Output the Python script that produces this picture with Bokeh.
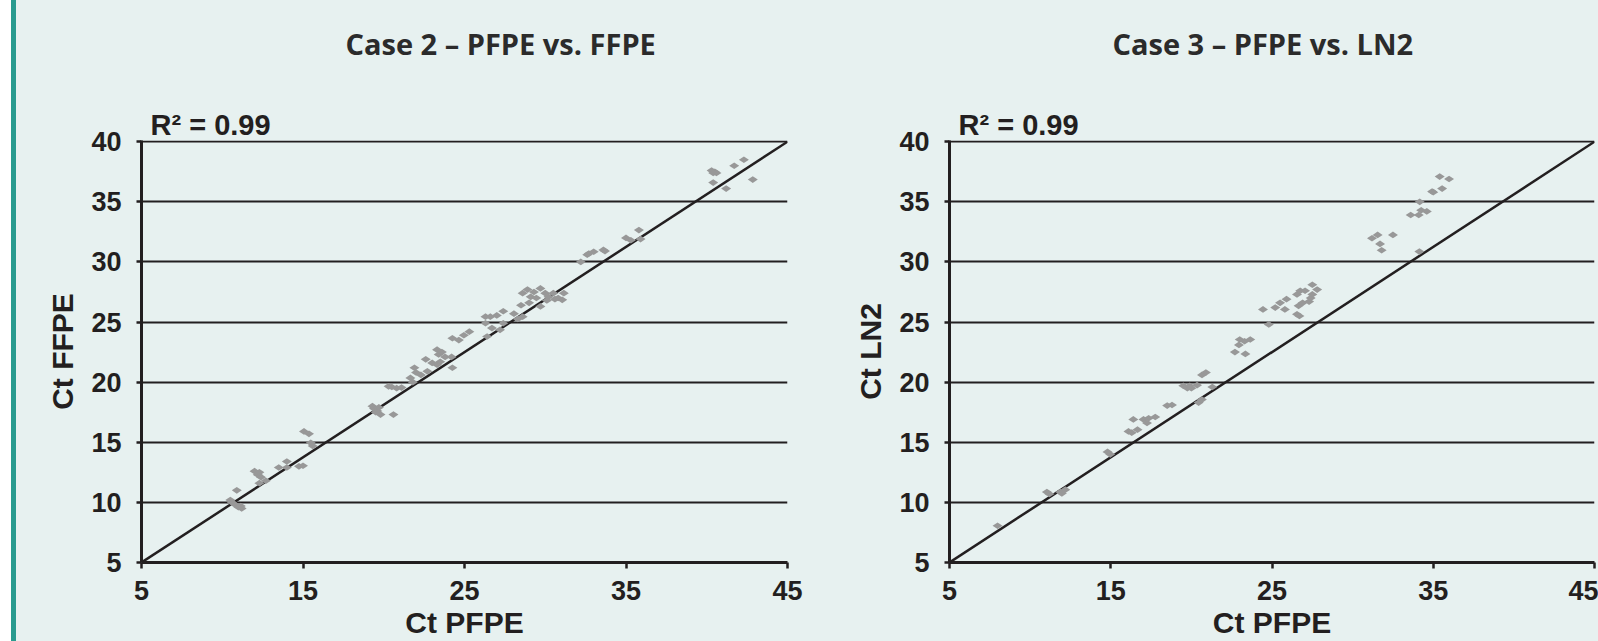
import math
from bokeh.plotting import figure
from bokeh.models import FixedTicker, Range1d, Div, Title, Label
from bokeh.layouts import row, column
from bokeh.embed import file_html
from bokeh.resources import INLINE

# ---------------- data ----------------
case2_pfpe = [10.5, 10.8, 11.0, 11.2, 10.9, 11.15, 10.6,
              12.0, 12.2, 12.4, 12.3, 12.3, 12.7,
              13.5, 14.0, 14.0, 14.75, 15.0,
              15.06, 15.37, 15.48, 15.6,
              19.3, 19.6, 19.8, 19.4, 19.7, 19.5,
              20.6,
              20.3, 20.8, 21.1, 20.5,
              21.65, 21.9, 22.0, 22.3, 22.6, 22.7, 21.8,
              23.3, 23.4, 23.5, 23.8, 24.2, 24.25, 23.3, 23.6, 23.0,
              24.25, 24.65, 24.96, 25.3,
              26.3, 26.6, 27.0, 27.4, 26.3, 26.7, 26.4, 27.2, 27.4,
              28.06, 28.3, 28.6, 28.5,
              28.6, 28.9, 29.1, 29.0, 29.7, 29.7, 30.0, 30.2, 30.5, 30.8, 31.15, 31.05, 30.1, 29.45, 29.3, 30.6,
              32.2, 32.6, 33.0, 33.6, 33.7, 32.7,
              35.0, 35.3, 35.8, 35.9,
              40.3, 40.5, 40.4, 40.6, 40.4, 41.2, 41.7, 42.3, 42.85]
case2_ffpe = [10.2, 9.8, 9.6, 9.5, 11.0, 9.7, 10.0,
              12.6, 12.3, 12.1, 12.5, 11.6, 11.8,
              12.9, 13.4, 12.9, 13.0, 13.05,
              15.9, 15.7, 14.95, 14.7,
              18.0, 17.6, 17.3, 17.8, 17.9, 17.5,
              17.3,
              19.65, 19.5, 19.55, 19.6,
              20.35, 21.2, 20.8, 20.6, 21.9, 20.9, 20.0,
              22.7, 22.3, 21.7, 22.1, 22.1, 21.2, 21.45, 22.5, 21.6,
              23.65, 23.5, 23.9, 24.2,
              25.45, 25.45, 25.55, 25.9, 24.9, 24.5, 23.8, 24.35, 24.9,
              25.7, 25.25, 25.45, 26.4,
              27.4, 27.7, 27.1, 26.6, 27.8, 26.3, 27.4, 27.1, 27.4, 27.0, 27.4, 26.85, 26.8, 27.0, 27.5, 26.9,
              30.0, 30.6, 30.85, 31.0, 30.9, 30.7,
              32.0, 31.8, 32.65, 31.9,
              37.6, 37.5, 37.4, 37.4, 36.6, 36.1, 38.0, 38.5, 36.85]

case3_pfpe = [7.98,
              11.04, 11.2, 11.87, 12.18, 11.97,
              14.8, 14.97,
              16.1, 16.4, 16.3, 16.66, 17.03, 17.35, 17.25, 17.76,
              18.5, 18.8,
              19.5, 19.75, 20.0, 20.35, 19.9,
              20.45, 20.65,
              20.66, 20.9,
              21.3,
              22.7, 23.0, 22.95, 23.3, 23.35, 23.65,
              24.44, 24.8, 25.2, 25.5, 25.8, 25.9,
              26.55, 26.55, 26.75, 27.05, 26.65, 26.9, 26.7, 27.4, 27.5, 27.8, 27.5, 27.3,
              31.2, 31.55, 31.7, 31.8, 32.5,
              33.6, 34.1, 34.16, 34.25, 34.6, 34.14,
              34.93, 35.0, 35.55, 35.4, 35.98]
case3_ln2 = [8.06,
             10.86, 10.7, 10.86, 11.06, 10.75,
             14.2, 14.0,
             15.9, 16.9, 15.8, 16.05, 16.9, 17.0, 16.6, 17.1,
             18.05, 18.1,
             19.7, 19.5, 19.5, 19.75, 19.7,
             18.3, 18.55,
             20.6, 20.8,
             19.6,
             22.5, 23.55, 23.1, 23.4, 22.35, 23.55,
             26.05, 24.8, 26.2, 26.6, 26.05, 26.9,
             25.65, 27.3, 27.6, 27.6, 26.35, 26.6, 25.5, 27.0, 27.3, 27.7, 28.1, 26.7,
             31.97, 32.25, 31.5, 30.97, 32.25,
             33.9, 33.9, 35.0, 34.3, 34.2, 30.86,
             35.86, 35.8, 36.1, 37.1, 36.9]

x_ticks = [5, 15, 25, 35, 45]
y_ticks = [5, 10, 15, 20, 25, 30, 35, 40]
diag_x = [5, 45]
diag_y = [5, 40]
titles = ["Case 2 \u2013 PFPE vs. FFPE", "Case 3 \u2013 PFPE vs. LN2"]
x_label = "Ct PFPE"
y_labels = ["Ct FFPE", "Ct LN2"]
r2_text = "R\u00b2 = 0.99"

# ---------------- style ----------------
BG = "#e7f1f0"
INK = "#231f20"
DOT = "#989898"
TEAL = "#2a9b8f"
TICK_FONT = "Liberation Sans"
TITLE_FONT = "Open Sans"
H = 641
HEAD = 100          # height of the strip carrying the panel title


def make_head(title, width, frame_w, text_x):
    """Strip above a panel that only carries its title.
    Its frame is aligned with the panel frame below, so x is pixels from the frame's left edge."""
    h = figure(width=width, height=HEAD, title_location=None,
               x_range=Range1d(0, frame_w), y_range=Range1d(0, HEAD),
               x_axis_type=None, y_axis_type=None,
               output_backend="svg", toolbar_location=None,
               min_border=0, background_fill_color=BG, border_fill_color=BG,
               outline_line_color=None)
    h.grid.visible = False
    h.add_layout(Label(x=text_x, y=57, text=title, text_align="left",
                       text_baseline="alphabetic", text_font=TITLE_FONT,
                       text_font_style="bold", text_font_size="29px",
                       text_color="#2b2b2b"))
    return h


def make_panel(xs, ys, ylab, width, border_left, border_right):
    p = figure(width=width, height=H - HEAD,
               x_range=Range1d(5, 45), y_range=Range1d(5, 40.1),
               output_backend="svg", toolbar_location=None,
               min_border_left=border_left, min_border_right=border_right,
               min_border_top=40, min_border_bottom=79,
               background_fill_color=BG, border_fill_color=BG,
               outline_line_color=None)
    p.xgrid.visible = False
    p.ygrid.ticker = FixedTicker(ticks=y_ticks)
    p.ygrid.grid_line_color = INK
    p.ygrid.grid_line_width = 2

    p.xaxis.ticker = FixedTicker(ticks=x_ticks)
    p.yaxis.ticker = FixedTicker(ticks=y_ticks)
    for ax in (p.xaxis[0], p.yaxis[0]):
        ax.axis_line_color = INK
        ax.axis_line_width = 3
        ax.major_tick_line_color = INK
        ax.major_tick_line_width = 2.5
        ax.major_tick_in = 0
        ax.minor_tick_line_color = None
        ax.major_label_text_font = TICK_FONT
        ax.major_label_text_font_style = "bold"
        ax.major_label_text_font_size = "27px"
        ax.major_label_text_color = INK
        ax.axis_label_text_font = TICK_FONT
        ax.axis_label_text_font_style = "bold"
        ax.axis_label_text_font_size = "30px"
        ax.axis_label_text_color = INK
    p.xaxis.major_tick_out = 6
    p.xaxis.major_label_standoff = 12
    p.xaxis.axis_label = x_label
    p.xaxis.axis_label_standoff = 3
    p.yaxis.major_tick_out = 5
    p.yaxis.major_label_standoff = 15
    p.yaxis.axis_label = ylab
    p.yaxis.axis_label_standoff = 9

    p.line(diag_x, diag_y, line_color=INK, line_width=2.5)
    p.scatter(xs, ys, marker="diamond", size=10, angle=math.pi / 2,
              fill_color=DOT, line_color=None)

    # R^2 annotation just above the frame
    p.add_layout(Title(text=r2_text, align="left", offset=9, standoff=0,
                       text_font=TICK_FONT, text_font_style="bold",
                       text_font_size="29px", text_color=INK), "above")
    return p


bar = Div(width=16, height=H, margin=0,
          styles={"background": "linear-gradient(to right, #ffffff 11px, %s 11px)" % TEAL})

LW, RW = 802, 780
left = column(make_head(titles[0], LW, LW - 125 - 31, 204),
              make_panel(case2_pfpe, case2_ffpe, y_labels[0], LW, 125, 31),
              spacing=0)
right = column(make_head(titles[1], RW, RW - 131 - 4, 163),
               make_panel(case3_pfpe, case3_ln2, y_labels[1], RW, 131, 4),
               spacing=0)

layout = row(bar, left, right, spacing=0, styles={"background-color": BG})
open("out.html", "w").write(file_html(layout, INLINE))
